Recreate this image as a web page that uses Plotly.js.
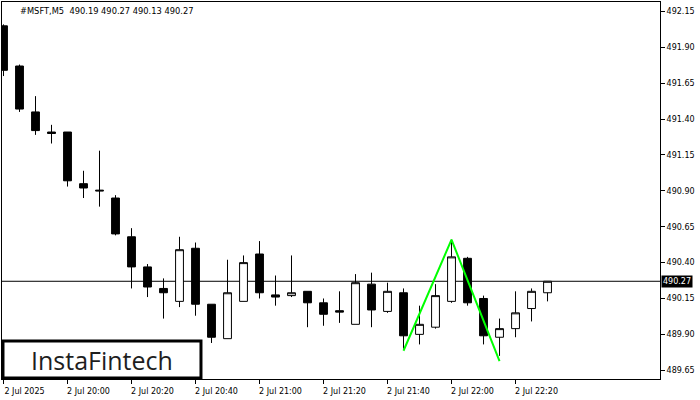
<!DOCTYPE html>
<html>
<head>
<meta charset="utf-8">
<script src="https://cdn.plot.ly/plotly-3.0.1.min.js"></script>
<style>html,body{margin:0;padding:0;background:#fff;}#chart{width:700px;height:400px;}</style>
</head>
<body>
<div id="chart"></div>
<script>
// ---- data ----
var times = ["19:40","19:45","19:50","19:55","20:00","20:05","20:10","20:15","20:20","20:25","20:30","20:35","20:40","20:45","20:50","20:55","21:00","21:05","21:10","21:15","21:20","21:25","21:30","21:35","21:40","21:45","21:50","21:55","22:00","22:05","22:10","22:15","22:20","22:25","22:30"];
var opens  = [492.05,491.77,491.45,491.31,491.31,490.95,490.905,490.85,490.58,490.37,490.22,490.13,490.50,490.11,489.87,490.13,490.46,490.175,490.17,490.20,490.12,490.065,489.97,490.25,490.06,490.19,489.90,489.95,490.13,490.43,490.15,489.88,489.94,490.08,490.19];
var highs  = [492.06,491.78,491.56,491.36,491.31,491.04,491.18,490.87,490.64,490.39,490.29,490.58,490.54,490.11,490.42,490.45,490.55,490.31,490.45,490.20,490.15,490.20,490.32,490.33,490.26,490.22,490.10,490.25,490.56,490.44,490.17,490.01,490.20,490.22,490.27];
var lows   = [491.70,491.45,491.29,491.23,490.93,490.85,490.79,490.59,490.22,490.16,490.01,490.09,490.03,489.84,489.87,490.13,490.15,490.10,490.16,489.95,489.96,489.98,489.97,489.95,490.05,489.80,489.83,489.94,490.12,490.10,489.83,489.75,489.88,489.99,490.13];
var closes = [491.74,491.47,491.32,491.30,490.97,490.92,490.90,490.60,490.37,490.23,490.19,490.49,490.11,489.88,490.19,490.40,490.19,490.16,490.19,490.12,490.04,490.055,490.26,490.07,490.20,489.89,489.97,490.17,490.44,490.12,489.89,489.94,490.05,490.20,490.27];
var patternTimes  = ["21:45","22:00","22:15"];
var patternPrices = [489.786,490.56,489.714];
var currentPrice = 490.27;
var tickTimes  = ["19:40","20:00","20:20","20:40","21:00","21:20","21:40","22:00","22:20"];
var tickLabels = ["2 Jul 2025","2 Jul 20:00","2 Jul 20:20","2 Jul 20:40","2 Jul 21:00","2 Jul 21:20","2 Jul 21:40","2 Jul 22:00","2 Jul 22:20"];
var priceTicks = [489.65,489.90,490.15,490.40,490.65,490.90,491.15,491.40,491.65,491.90,492.15];
var priceTickLabels = ["489.65","489.90","490.15","490.40","490.65","490.90","491.15","491.40","491.65","491.90","492.15"];
var headerText = "#MSFT,M5\u00a0\u00a0490.19 490.27 490.13 490.27";
var logoText = "InstaFintech";

var FONT = "DejaVu Sans, Verdana, sans-serif";

var traces = [
  {
    type: "candlestick",
    x: times, open: opens, high: highs, low: lows, close: closes,
    increasing: {fillcolor: "#ffffff", line: {color: "#000000", width: 1}},
    decreasing: {fillcolor: "#000000", line: {color: "#000000", width: 1}},
    whiskerwidth: 0,
    hoverinfo: "skip",
    showlegend: false
  },
  {
    type: "scatter", mode: "lines",
    x: patternTimes, y: patternPrices,
    line: {color: "#00ff00", width: 2},
    hoverinfo: "skip", showlegend: false
  }
];

var layout = {
  width: 700, height: 400,
  margin: {l: 2, r: 40, t: 2, b: 21, pad: 0},
  paper_bgcolor: "#ffffff", plot_bgcolor: "#ffffff",
  font: {family: FONT, size: 8, color: "#000000"},
  xaxis: {
    type: "category",
    categoryorder: "array", categoryarray: times,
    range: [-0.094, 41.03],
    rangeslider: {visible: false},
    showgrid: false, zeroline: false,
    showline: true, mirror: true, linecolor: "#000000", linewidth: 1,
    ticks: "outside", ticklen: 4, tickcolor: "#000000",
    tickmode: "array", tickvals: tickTimes, ticktext: tickLabels,
    ticklabelshift: 21,
    tickfont: {family: FONT, size: 8, color: "#000000"},
    fixedrange: true
  },
  yaxis: {
    side: "right",
    range: [489.589, 492.216],
    showgrid: false, zeroline: false,
    showline: true, mirror: true, linecolor: "#000000", linewidth: 1,
    ticks: "outside", ticklen: 4, tickcolor: "#000000",
    tickmode: "array", tickvals: priceTicks, ticktext: priceTickLabels,
    tickfont: {family: FONT, size: 8, color: "#000000"},
    fixedrange: true
  },
  shapes: [
    {type: "line", layer: "below", xref: "paper", x0: 0, x1: 1, yref: "y", y0: currentPrice, y1: currentPrice,
     line: {color: "#000000", width: 1}},
    {type: "rect", layer: "above", xref: "paper", yref: "paper",
     x0: 0.0015, x1: 0.3024, y0: 0.0027, y1: 0.1008,
     fillcolor: "#ffffff", line: {color: "#000000", width: 3}}
  ],
  annotations: [
    {xref: "paper", yref: "paper", x: 0.0243, y: 0.976, xanchor: "left", yanchor: "middle",
     text: headerText, showarrow: false, font: {family: FONT, size: 8.3, color: "#000000"}},
    {xref: "paper", yref: "y", x: 1.0015, y: currentPrice, xanchor: "left", yanchor: "middle",
     text: currentPrice.toFixed(2), showarrow: false, bgcolor: "#000000", borderpad: 1,
     font: {family: FONT, size: 8, color: "#ffffff"}},
    {xref: "paper", yref: "paper", x: 0.152, y: 0.0517, xanchor: "center", yanchor: "middle",
     text: logoText, showarrow: false, font: {family: "Open Sans, Lato, sans-serif", size: 25, color: "#1e1e1e"}}
  ]
};

Plotly.newPlot("chart", traces, layout, {displayModeBar: false, staticPlot: true});
</script>
</body>
</html>
